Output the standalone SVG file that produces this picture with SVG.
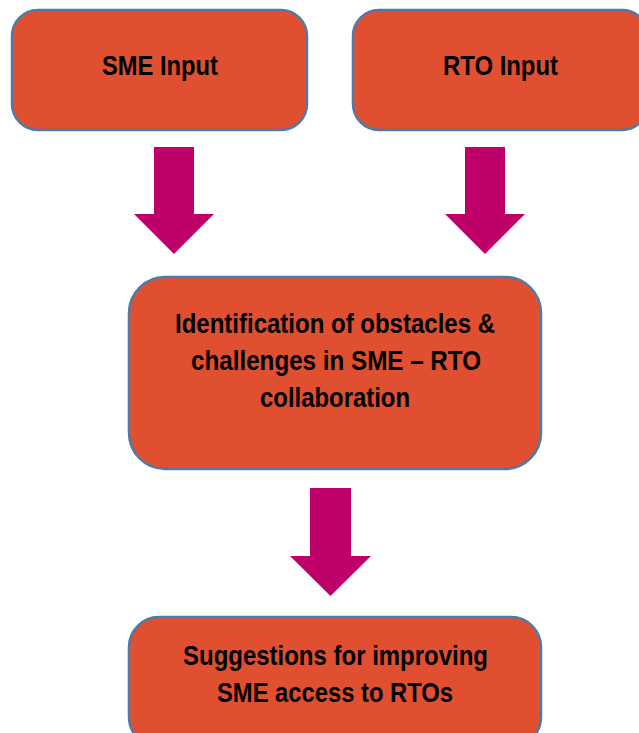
<svg xmlns="http://www.w3.org/2000/svg" width="639" height="733" viewBox="0 0 639 733">
  <style>
    .box { fill: #E04F30; stroke: #4F7AA6; stroke-width: 2.5; }
    .arrow { fill: #C0006A; }
    .label { font-family: "Liberation Sans Narrow", "Arial Narrow", "Liberation Sans", sans-serif; font-weight: bold; font-size: 28px; fill: #000; text-anchor: middle; }
  </style>
  <rect width="639" height="733" fill="#FFFFFF"/>

  <!-- connectors: block arrows -->
  <g id="connectors">
    <polygon class="arrow" points="154,147 194,147 194,214 214,214 174,254 134,214 154,214"/>
    <polygon class="arrow" points="465,147 505,147 505,214 525,214 485,254 445,214 465,214"/>
    <polygon class="arrow" points="310,488 351,488 351,556 371,556 330.5,596 290,556 310,556"/>
  </g>

  <!-- labels are condensed with textLength to keep the narrow bold look -->
  <g id="sme-input">
    <rect class="box" x="12" y="10" width="295" height="120" rx="26" ry="26"/>
    <text class="label" x="160" y="75" textLength="116" lengthAdjust="spacingAndGlyphs">SME Input</text>
  </g>

  <g id="rto-input">
    <rect class="box" x="353" y="10" width="295" height="120" rx="26" ry="26"/>
    <text class="label" x="500.5" y="75" textLength="115" lengthAdjust="spacingAndGlyphs">RTO Input</text>
  </g>

  <g id="obstacles">
    <rect class="box" x="129" y="277" width="412" height="192" rx="36" ry="36"/>
    <text class="label" x="335" y="333" textLength="320" lengthAdjust="spacingAndGlyphs">Identification of obstacles &amp;</text>
    <text class="label" x="336" y="370" textLength="290" lengthAdjust="spacingAndGlyphs">challenges in SME – RTO</text>
    <text class="label" x="335" y="407" textLength="150" lengthAdjust="spacingAndGlyphs">collaboration</text>
  </g>

  <g id="suggestions">
    <rect class="box" x="129" y="617" width="412" height="130" rx="30" ry="30"/>
    <text class="label" x="335.5" y="665" textLength="305" lengthAdjust="spacingAndGlyphs">Suggestions for improving</text>
    <text class="label" x="335" y="702" textLength="236" lengthAdjust="spacingAndGlyphs">SME access to RTOs</text>
  </g>
</svg>
